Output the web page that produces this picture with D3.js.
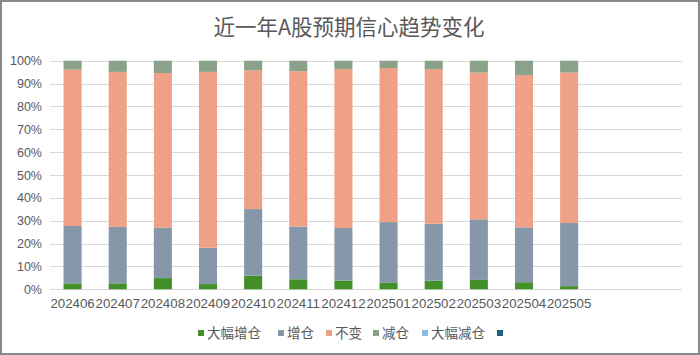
<!DOCTYPE html>
<html><head><meta charset="utf-8">
<script src="https://cdn.jsdelivr.net/npm/d3@7"></script>
<style>
html,body{margin:0;padding:0;background:#fff;}
svg{display:block;font-family:"Noto Sans CJK SC","Noto Sans",sans-serif;}
</style></head>
<body><svg id="c" width="700" height="355"></svg>
<script>
const categories = ["202406","202407","202408","202409","202410","202411","202412","202501","202502","202503","202504","202505","",""];
const seriesNames = ["大幅增仓","增仓","不变","减仓","大幅减仓",""];
const bigAdd   = [2.6,2.6,4.9,2.3,6.0,4.4,3.8,2.8,3.8,4.1,3.1,1.4];
const add      = [25.1,24.7,22.1,15.9,29.1,23.0,23.0,26.6,24.9,26.5,24.0,27.6];
const same     = [68.4,67.8,67.6,76.9,60.7,68.0,69.6,67.4,67.7,64.2,66.6,65.8];
const reduce   = [3.9,4.9,5.4,4.9,4.2,4.6,3.6,3.2,3.6,5.2,6.3,5.2];
const bigReduce= [0,0,0,0,0,0,0,0,0,0,0,0];
const extra    = [0,0,0,0,0,0,0,0,0,0,0,0];
const colors = ["#43902b","#8597a8","#efa187","#89a289","#86bde6","#1f5f80"];
const yTicks = [0,10,20,30,40,50,60,70,80,90,100];

const seriesValues = [bigAdd, add, same, reduce, bigReduce, extra];
const rows = categories.slice(0,12).map((c,i)=>{
  const r = {cat:c};
  seriesNames.forEach((n,k)=>{ r["s"+k] = seriesValues[k][i]; });
  return r;
});
const keys = seriesNames.map((n,k)=>"s"+k);
const stack = d3.stack().keys(keys).offset(d3.stackOffsetExpand)(rows);

const svg = d3.select("#c");
const W=700,H=355;
const m = {l:50, r:18, t:60.7, b:65.7};
svg.append("rect").attr("x",1).attr("y",1).attr("width",W-2).attr("height",H-2)
  .attr("fill","#fff").attr("stroke","#898989").attr("stroke-width",2);

const x = d3.scaleBand().domain(categories.map((c,i)=>i)).range([m.l, W-m.r]).paddingInner(0.6).paddingOuter(0.3);
const y = d3.scaleLinear().domain([0,1]).range([H-m.b, m.t]);

// gridlines
svg.append("g").selectAll("line").data(yTicks).join("line")
  .attr("x1",m.l).attr("x2",W-m.r)
  .attr("y1",d=>Math.round(y(d/100))+0.5).attr("y2",d=>Math.round(y(d/100))+0.5)
  .attr("stroke","#d9d9d9").attr("stroke-width",1);

// y axis labels
const yAxis = d3.axisLeft(y).tickValues(yTicks.map(d=>d/100)).tickFormat(d3.format(".0%")).tickSize(0).tickPadding(8);
const ya = svg.append("g").attr("transform",`translate(${m.l},0)`).call(yAxis);
ya.select(".domain").remove();
ya.selectAll("text").attr("fill","#595959").style("font-size","12.5px");

// x axis labels
const xAxis = d3.axisBottom(x).tickFormat(i=>categories[i]).tickSize(0).tickPadding(9);
const xa = svg.append("g").attr("transform",`translate(0,${H-m.b})`).call(xAxis);
xa.select(".domain").remove();
xa.selectAll("text").attr("fill","#595959").style("font-size","13.3px");

// bars
svg.append("g").selectAll("g").data(stack).join("g")
  .attr("fill",(d,k)=>colors[k])
  .selectAll("rect").data(d=>d).join("rect")
  .attr("x",(d,i)=>x(i)).attr("width",x.bandwidth())
  .attr("y",d=>y(d[1])).attr("height",d=>Math.max(0,y(d[0])-y(d[1])));

// title
svg.append("text").attr("x",W/2 - 1).attr("y",35).attr("text-anchor","middle")
  .attr("fill","#595959").style("font-size","21.5px").text("近一年A股预期信心趋势变化");

// legend
const legX = [198,278,326,373,422,497];
const lg = svg.append("g").selectAll("g").data(seriesNames).join("g")
  .attr("transform",(d,k)=>`translate(${legX[k]},333)`);
lg.append("rect").attr("x",0).attr("y",-3).attr("width",6).attr("height",6).attr("fill",(d,k)=>colors[k]);
lg.append("text").attr("x",9).attr("y",5).attr("fill","#595959").style("font-size","13.5px").text(d=>d);
</script></body></html>
